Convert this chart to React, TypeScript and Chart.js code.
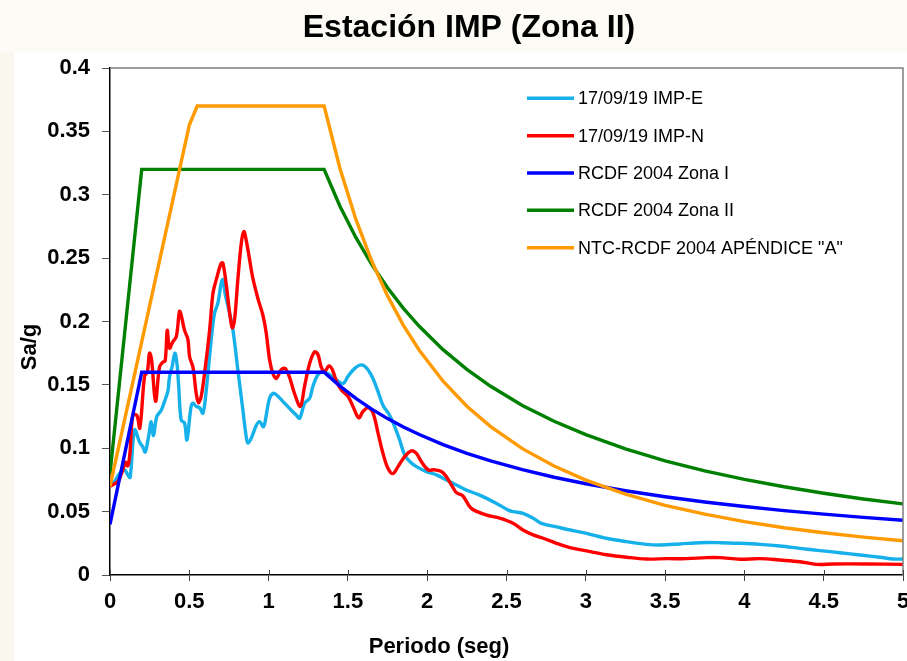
import { useEffect, useRef } from 'react';
import { Chart, registerables } from 'chart.js';

Chart.register(...registerables);

const titleText = 'Estación IMP (Zona II)';
const xAxisTitle = 'Periodo (seg)';
const yAxisTitle = 'Sa/g';

const xTickValues = [0, 0.5, 1, 1.5, 2, 2.5, 3, 3.5, 4, 4.5, 5];
const xTickLabels = ['0', '0.5', '1', '1.5', '2', '2.5', '3', '3.5', '4', '4.5', '5'];
const yTickValues = [0, 0.05, 0.1, 0.15, 0.2, 0.25, 0.3, 0.35, 0.4];
const yTickLabels = ['0', '0.05', '0.1', '0.15', '0.2', '0.25', '0.3', '0.35', '0.4'];

const seriesLabels = [
  '17/09/19 IMP-E',
  '17/09/19 IMP-N',
  'RCDF 2004 Zona I',
  'RCDF 2004 Zona II',
  'NTC-RCDF 2004 APÉNDICE "A"',
];
const seriesColors = ['#16b0ea', '#ff0000', '#0000ff', '#008000', '#ff9a00'];

const periodE = [
  0, 0.03, 0.06, 0.091, 0.112, 0.127, 0.155, 0.186, 0.207, 0.222, 0.245, 0.26, 0.274, 0.295,
  0.323, 0.344, 0.365, 0.375, 0.392, 0.409, 0.422, 0.432, 0.449, 0.47, 0.485, 0.51, 0.523,
  0.544, 0.565, 0.586, 0.607, 0.638, 0.659, 0.68, 0.708, 0.729, 0.754, 0.775, 0.806, 0.838,
  0.859, 0.87, 0.891, 0.922, 0.943, 0.968, 0.985, 1.006, 1.032, 1.059, 1.101, 1.143, 1.175,
  1.196, 1.227, 1.259, 1.279, 1.311, 1.343, 1.385, 1.427, 1.469, 1.5, 1.543, 1.585, 1.62,
  1.658, 1.69, 1.721, 1.763, 1.795, 1.826, 1.858, 1.89, 1.932, 1.995, 2.058, 2.121, 2.184,
  2.247, 2.331, 2.443, 2.514, 2.541, 2.604, 2.668, 2.72, 2.815, 2.92, 3.004, 3.13, 3.257,
  3.383, 3.467, 3.593, 3.719, 3.845, 3.972, 4.098, 4.224, 4.35, 4.476, 4.603, 4.729, 4.855,
  4.94, 5.0,
];
const saE = [
  0.07, 0.074, 0.08, 0.083, 0.079, 0.077, 0.1145, 0.105, 0.101, 0.097, 0.1105, 0.121, 0.11,
  0.125, 0.13, 0.137, 0.145, 0.156, 0.1645, 0.175, 0.167, 0.151, 0.122, 0.12, 0.1066, 0.132,
  0.1355, 0.133, 0.132, 0.1277, 0.146, 0.1855, 0.2066, 0.2145, 0.233, 0.22, 0.2066, 0.1934,
  0.162, 0.13, 0.109, 0.104, 0.108, 0.118, 0.121, 0.117, 0.126, 0.1395, 0.1434, 0.141,
  0.1355, 0.13, 0.126, 0.1237, 0.1355, 0.1395, 0.1487, 0.158, 0.1605, 0.158, 0.154, 0.151,
  0.1566, 0.163, 0.1658, 0.163, 0.155, 0.1447, 0.134, 0.126, 0.117, 0.1066, 0.0947, 0.0895,
  0.0855, 0.0816, 0.079, 0.075, 0.071, 0.067, 0.063, 0.056, 0.051, 0.05, 0.0487, 0.0448,
  0.0408, 0.038, 0.035, 0.0329, 0.029, 0.0263, 0.0242, 0.0237, 0.0245, 0.0255, 0.0255, 0.025,
  0.0242, 0.0229, 0.021, 0.0192, 0.0176, 0.0158, 0.014, 0.0126, 0.0126,
];

const periodN = [
  0, 0.05, 0.081, 0.098, 0.112, 0.125, 0.144, 0.169, 0.188, 0.218, 0.235, 0.249, 0.262,
  0.287, 0.312, 0.333, 0.348, 0.361, 0.375, 0.396, 0.418, 0.438, 0.447, 0.47, 0.491, 0.502,
  0.523, 0.544, 0.558, 0.575, 0.596, 0.628, 0.649, 0.67, 0.701, 0.712, 0.733, 0.754, 0.771,
  0.785, 0.806, 0.828, 0.844, 0.859, 0.88, 0.901, 0.933, 0.964, 0.985, 1.006, 1.027, 1.049,
  1.08, 1.105, 1.132, 1.164, 1.2, 1.227, 1.259, 1.29, 1.311, 1.332, 1.353, 1.381, 1.402,
  1.427, 1.459, 1.5, 1.532, 1.568, 1.595, 1.627, 1.658, 1.69, 1.721, 1.753, 1.784, 1.816,
  1.858, 1.9, 1.932, 1.963, 2.005, 2.047, 2.09, 2.121, 2.153, 2.184, 2.224, 2.278, 2.37,
  2.457, 2.541, 2.604, 2.668, 2.731, 2.815, 2.899, 3.004, 3.13, 3.257, 3.383, 3.509, 3.635,
  3.762, 3.845, 3.972, 4.098, 4.224, 4.35, 4.455, 4.56, 4.771, 5.0,
];
const saN = [
  0.07, 0.074, 0.083, 0.089, 0.086, 0.095, 0.126, 0.126, 0.116, 0.157, 0.16, 0.175, 0.17,
  0.137, 0.164, 0.168, 0.169, 0.193, 0.179, 0.184, 0.188, 0.208, 0.206, 0.193, 0.186, 0.172,
  0.164, 0.143, 0.136, 0.141, 0.159, 0.193, 0.222, 0.233, 0.246, 0.246, 0.229, 0.207, 0.195,
  0.201, 0.233, 0.262, 0.271, 0.264, 0.249, 0.234, 0.218, 0.205, 0.191, 0.17, 0.159, 0.155,
  0.162, 0.163, 0.156, 0.143, 0.133, 0.149, 0.167, 0.176, 0.174, 0.164, 0.1605, 0.165, 0.162,
  0.153, 0.146, 0.141, 0.133, 0.124, 0.129, 0.132, 0.128, 0.112, 0.096, 0.084, 0.08, 0.0855,
  0.0934, 0.098, 0.096, 0.0895, 0.083, 0.083, 0.0816, 0.0776, 0.071, 0.065, 0.0625, 0.0526,
  0.0475, 0.0448, 0.0408, 0.0355, 0.0316, 0.029, 0.025, 0.0216, 0.019, 0.016, 0.014, 0.0126,
  0.0129, 0.0129, 0.0137, 0.0137, 0.0124, 0.0129, 0.0118, 0.0105, 0.0084, 0.0087, 0.0087,
  0.0084,
];

const periodZonas = [
  0, 0.2, 1.35, 1.45, 1.55, 1.65, 1.75, 1.85, 1.95, 2.1, 2.25, 2.4, 2.6, 2.8, 3.0, 3.25, 3.5,
  3.75, 4.0, 4.25, 4.5, 4.75, 5.0,
];
const saZonaI = [
  0.04, 0.16, 0.16, 0.149, 0.1394, 0.1309, 0.1234, 0.1168, 0.1108, 0.1029, 0.096, 0.09,
  0.0831, 0.0771, 0.072, 0.0665, 0.0617, 0.0576, 0.054, 0.0508, 0.048, 0.0455, 0.0432,
];
const saZonaII = [
  0.08, 0.32, 0.32, 0.291, 0.2663, 0.2451, 0.2266, 0.2104, 0.1962, 0.1778, 0.1622, 0.1489,
  0.1338, 0.1213, 0.1107, 0.0995, 0.0901, 0.0822, 0.0755, 0.0696, 0.0645, 0.06, 0.0561,
];
const periodApA = [
  0, 0.5, 0.55, 1.35, 1.45, 1.55, 1.65, 1.75, 1.85, 1.95, 2.1, 2.25, 2.4, 2.6, 2.8, 3.0, 3.25,
  3.5, 3.75, 4.0, 4.25, 4.5, 4.75, 5.0,
];
const saApA = [
  0.07, 0.355, 0.37, 0.37, 0.3207, 0.2807, 0.2477, 0.2202, 0.197, 0.1773, 0.1529, 0.1332,
  0.1171, 0.0997, 0.086, 0.0749, 0.0638, 0.055, 0.048, 0.0421, 0.0373, 0.0333, 0.0299, 0.027,
];

const FONT = "'Liberation Sans', Arial, Helvetica, sans-serif";

function pts(xs: number[], ys: number[]) {
  return xs.map((x, i) => ({ x, y: ys[i] }));
}

export default function App() {
  const ref = useRef<HTMLCanvasElement>(null);

  useEffect(() => {
    const canvas = ref.current;
    if (!canvas) return;

    const bgPlugin = {
      id: 'bgPlugin',
      beforeDraw(chart: any) {
        const ctx = chart.ctx;
        ctx.save();
        ctx.fillStyle = '#ffffff';
        ctx.fillRect(0, 0, chart.width, chart.height);
        ctx.fillStyle = '#fcfbf6';
        ctx.fillRect(0, 0, chart.width, 52);
        ctx.fillStyle = '#f9f7ee';
        ctx.fillRect(0, 52, 14, chart.height - 52);
        ctx.restore();
      },
    };

    const decorPlugin = {
      id: 'decorPlugin',
      afterDraw(chart: any) {
        const ctx = chart.ctx;
        const area = chart.chartArea;
        const xs = chart.scales.x;
        ctx.save();
        // frame top & right
        ctx.strokeStyle = '#7f7f7f';
        ctx.lineWidth = 1.5;
        ctx.beginPath();
        ctx.moveTo(area.left, area.top);
        ctx.lineTo(area.right, area.top);
        ctx.lineTo(area.right, area.bottom);
        ctx.stroke();
        // inner x tick marks
        ctx.strokeStyle = '#404040';
        ctx.lineWidth = 1;
        xTickValues.forEach((v) => {
          const px = Math.round(xs.getPixelForValue(v)) + 0.5;
          ctx.beginPath();
          ctx.moveTo(px, area.bottom - 5);
          ctx.lineTo(px, area.bottom);
          ctx.stroke();
        });
        // title
        ctx.fillStyle = '#000';
        ctx.textAlign = 'center';
        ctx.textBaseline = 'alphabetic';
        ctx.font = `bold 32px ${FONT}`;
        ctx.fillText(titleText, 469, 36.5);
        // x title
        ctx.font = `bold 22px ${FONT}`;
        ctx.fillText(xAxisTitle, 439, 653);
        // y title
        ctx.save();
        ctx.translate(36, 347);
        ctx.rotate(-Math.PI / 2);
        ctx.fillText(yAxisTitle, 0, 0);
        ctx.restore();
        // legend
        ctx.font = `18px ${FONT}`;
        ctx.textAlign = 'left';
        ctx.textBaseline = 'middle';
        chart.data.datasets.forEach((ds: any, i: number) => {
          const y = 98.3 + i * 37.35;
          ctx.strokeStyle = ds.borderColor;
          ctx.lineWidth = 3.5;
          ctx.beginPath();
          ctx.moveTo(527, y);
          ctx.lineTo(574, y);
          ctx.stroke();
          ctx.fillStyle = '#000';
          ctx.fillText(ds.label, 578, y + 1);
        });
        ctx.restore();
      },
    };

    const lineBase = { pointRadius: 0, pointHoverRadius: 0, borderWidth: 3.4, fill: false };

    const chart = new Chart(canvas, {
      type: 'line',
      data: {
        datasets: [
          { ...lineBase, label: seriesLabels[0], borderColor: seriesColors[0], data: pts(periodE, saE), tension: 0.35, order: 4 },
          { ...lineBase, label: seriesLabels[1], borderColor: seriesColors[1], data: pts(periodN, saN), tension: 0.35, order: 3 },
          { ...lineBase, label: seriesLabels[2], borderColor: seriesColors[2], data: pts(periodZonas, saZonaI), tension: 0, order: 2 },
          { ...lineBase, label: seriesLabels[3], borderColor: seriesColors[3], data: pts(periodZonas, saZonaII), tension: 0, order: 1 },
          { ...lineBase, label: seriesLabels[4], borderColor: seriesColors[4], data: pts(periodApA, saApA), tension: 0, order: 0 },
        ],
      },
      options: {
        animation: false,
        responsive: false,
        devicePixelRatio: 1,
        layout: { padding: { top: 68, right: 4, left: 0, bottom: 0 }, autoPadding: false },
        plugins: {
          legend: { display: false },
          tooltip: { enabled: false },
          title: { display: false },
        },
        scales: {
          x: {
            type: 'linear',
            min: 0,
            max: 5,
            afterBuildTicks: (s: any) => {
              s.ticks = xTickValues.map((v) => ({ value: v }));
            },
            afterFit: (s: any) => {
              s.height = 86;
              s.paddingLeft = 0;
              s.paddingRight = 0;
            },
            ticks: {
              callback: (_v: any, i: number) => xTickLabels[i],
              font: { family: FONT, size: 22, weight: 'bold' },
              color: '#000',
              padding: 8,
              maxRotation: 0,
              autoSkip: false,
            },
            grid: { display: true, drawOnChartArea: false, drawTicks: true, tickLength: 6, color: '#404040', lineWidth: 1 },
            border: { display: true, color: '#000', width: 1.5 },
          },
          y: {
            type: 'linear',
            min: 0,
            max: 0.4,
            afterBuildTicks: (s: any) => {
              s.ticks = yTickValues.map((v) => ({ value: v }));
            },
            afterFit: (s: any) => {
              s.width = 110;
              s.paddingTop = 0;
              s.paddingBottom = 0;
            },
            ticks: {
              callback: (_v: any, i: number) => yTickLabels[i],
              font: { family: FONT, size: 22, weight: 'bold' },
              color: '#000',
              padding: 12,
              autoSkip: false,
            },
            grid: { display: true, drawOnChartArea: false, drawTicks: true, tickLength: 8, color: '#555555', lineWidth: 1 },
            border: { display: true, color: '#000', width: 1.5 },
          },
        },
      } as any,
      plugins: [bgPlugin, decorPlugin],
    });

    return () => chart.destroy();
  }, []);

  return (
    <div style={{ position: 'fixed', left: 0, top: 0, width: 907, height: 661, background: '#fff' }}>
      <canvas ref={ref} width={907} height={661} style={{ display: 'block', width: 907, height: 661 }} />
    </div>
  );
}
